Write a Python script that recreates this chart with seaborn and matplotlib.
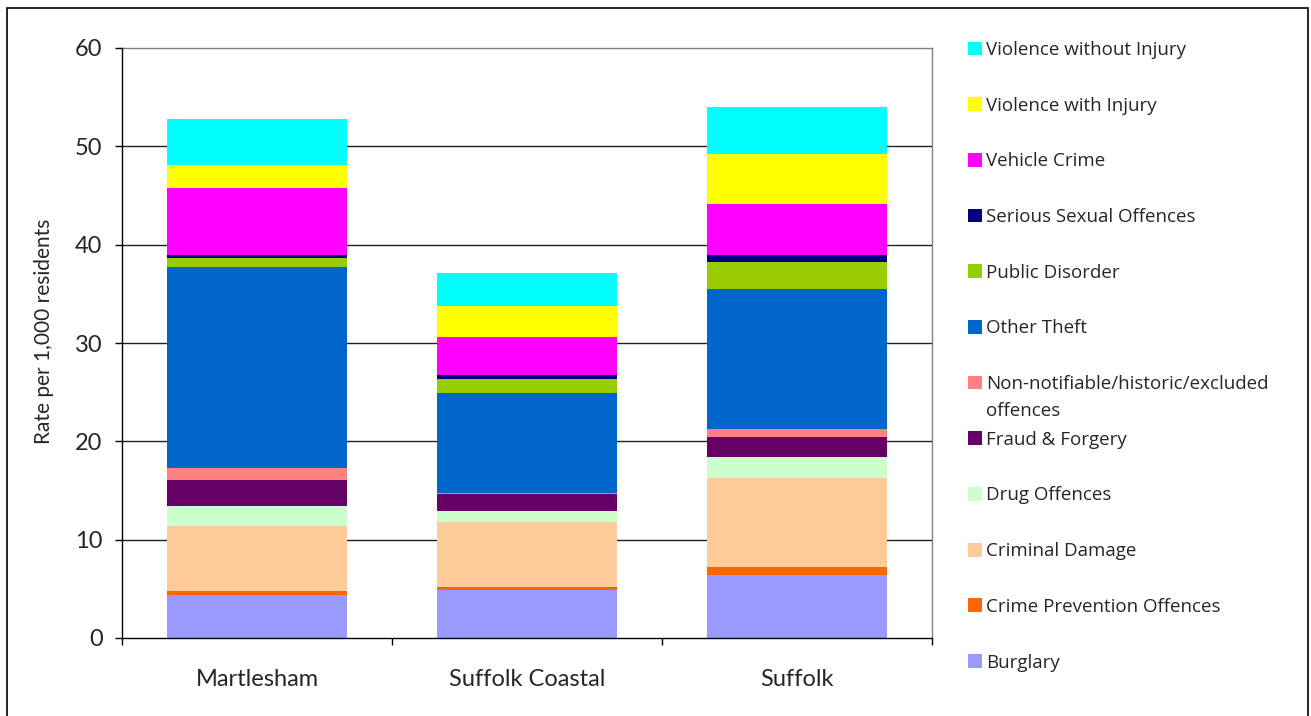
import numpy as np
import pandas as pd
import matplotlib
matplotlib.use("Agg")
import matplotlib.pyplot as plt
from matplotlib.patches import Patch, Rectangle
import seaborn as sns

# ---------------- data ----------------
areas = ["Martlesham", "Suffolk Coastal", "Suffolk"]

# bottom -> top stacking order
categories = [
    "Burglary",
    "Crime Prevention Offences",
    "Criminal Damage",
    "Drug Offences",
    "Fraud & Forgery",
    "Non-notifiable/historic/excluded offences",
    "Other Theft",
    "Public Disorder",
    "Serious Sexual Offences",
    "Vehicle Crime",
    "Violence with Injury",
    "Violence without Injury",
]

burglary          = [4.40, 4.91, 6.44]
crime_prevention  = [0.41, 0.31, 0.81]
criminal_damage   = [6.61, 6.61, 9.06]
drug_offences     = [2.04, 1.12, 2.13]
fraud_forgery     = [2.64, 1.73, 2.04]
non_notifiable    = [1.22, 0.10, 0.81]
other_theft       = [20.45, 10.17, 14.24]
public_disorder   = [0.92, 1.43, 2.75]
serious_sexual    = [0.31, 0.41, 0.71]
vehicle_crime     = [6.81, 3.86, 5.19]
violence_injury   = [2.34, 3.15, 4.99]
violence_no_inj   = [4.58, 3.36, 4.88]

series = [burglary, crime_prevention, criminal_damage, drug_offences,
          fraud_forgery, non_notifiable, other_theft, public_disorder,
          serious_sexual, vehicle_crime, violence_injury, violence_no_inj]

colors = ["#9999FF", "#FF6600", "#FFCC99", "#CCFFCC", "#660066", "#FF8080",
          "#0066CC", "#99CC00", "#000080", "#FF00FF", "#FFFF00", "#00FFFF"]

yticks = [0, 10, 20, 30, 40, 50, 60]
ylabel = "Rate per 1,000 residents"

# ---------------- style ----------------
sns.set_style("white")
plt.rcParams["font.family"] = ["Lato", "DejaVu Sans"]

W, H = 1311, 716
fig = plt.figure(figsize=(W / 100, H / 100), dpi=100)
ax = fig.add_axes([122 / W, 1 - 638 / H, (932 - 122) / W, (638 - 48) / H])

# stacked bars: draw cumulative totals from the top layer down
cum = np.cumsum(np.array(series), axis=0)
for k in range(len(series) - 1, -1, -1):
    df = pd.DataFrame({"area": areas, "value": cum[k]})
    sns.barplot(data=df, x="area", y="value", order=areas, color=colors[k],
                saturation=1, width=0.67, linewidth=0, ax=ax, zorder=3)

ax.set_xlim(-0.5, len(areas) - 0.5)
ax.set_ylim(0, 60)
ax.set_yticks(yticks)
ax.set_yticklabels([str(t) for t in yticks], fontsize=17)
ax.set_xlabel("")
ax.set_ylabel(ylabel, fontsize=15)
ax.yaxis.set_label_coords(-0.084, 0.52)

# grid
for t in yticks[1:-1]:
    ax.axhline(t, color="#202020", lw=1.0, zorder=1)

# spines
for s in ["left", "bottom"]:
    ax.spines[s].set_color("black")
    ax.spines[s].set_linewidth(1.0)
    ax.spines[s].set_zorder(5)
for s in ["top", "right"]:
    ax.spines[s].set_visible(True)
    ax.spines[s].set_color("#808080")
    ax.spines[s].set_linewidth(1.0)

# ticks
ax.tick_params(axis="y", direction="out", length=5, width=1, color="black",
               pad=9, left=True)
ax.set_xticks(range(len(areas)))
ax.set_xticklabels(areas, fontsize=17)
ax.tick_params(axis="x", which="major", length=0, pad=22)
ax.set_xticks(np.arange(-0.5, len(areas), 1.0), minor=True)
ax.tick_params(axis="x", which="minor", direction="out", length=5, width=1,
               color="black", bottom=True)

# legend (reverse order, Excel style); long label wraps, overflowing below
handles = [Patch(facecolor=c, edgecolor="none") for c in colors][::-1]
labels = []
wrapped = {}
for i, lab in enumerate(categories[::-1]):
    if lab.startswith("Non-notifiable"):
        first, rest = lab.split(" ", 1)
        labels.append(first)
        wrapped[i] = rest
    else:
        labels.append(lab)

LEG_FONT = {"family": ["Open Sans", "DejaVu Sans"], "size": 13.5}
leg = fig.legend(handles, labels, frameon=False, prop=LEG_FONT,
                 handlelength=0.75, handleheight=0.75, handletextpad=0.2,
                 borderpad=0, borderaxespad=0, labelspacing=2.01,
                 loc="upper left", bbox_to_anchor=(968 / W, 1 - 41 / H))

fig.canvas.draw()
r = fig.canvas.get_renderer()
for i, rest in wrapped.items():
    t = leg.get_texts()[i]
    bb = t.get_window_extent(r)
    x0, y0 = fig.transFigure.inverted().transform((bb.x0, bb.y0 - 27))
    fig.text(x0, y0, rest, ha="left", va="bottom", **LEG_FONT)

# outer frame
fig.add_artist(Rectangle((7 / W, -0.05), (1308 - 7) / W, 1 - 8 / H + 0.05,
                         transform=fig.transFigure, fill=False,
                         edgecolor="black", lw=1.2))

fig.savefig("out.png", dpi=100)
